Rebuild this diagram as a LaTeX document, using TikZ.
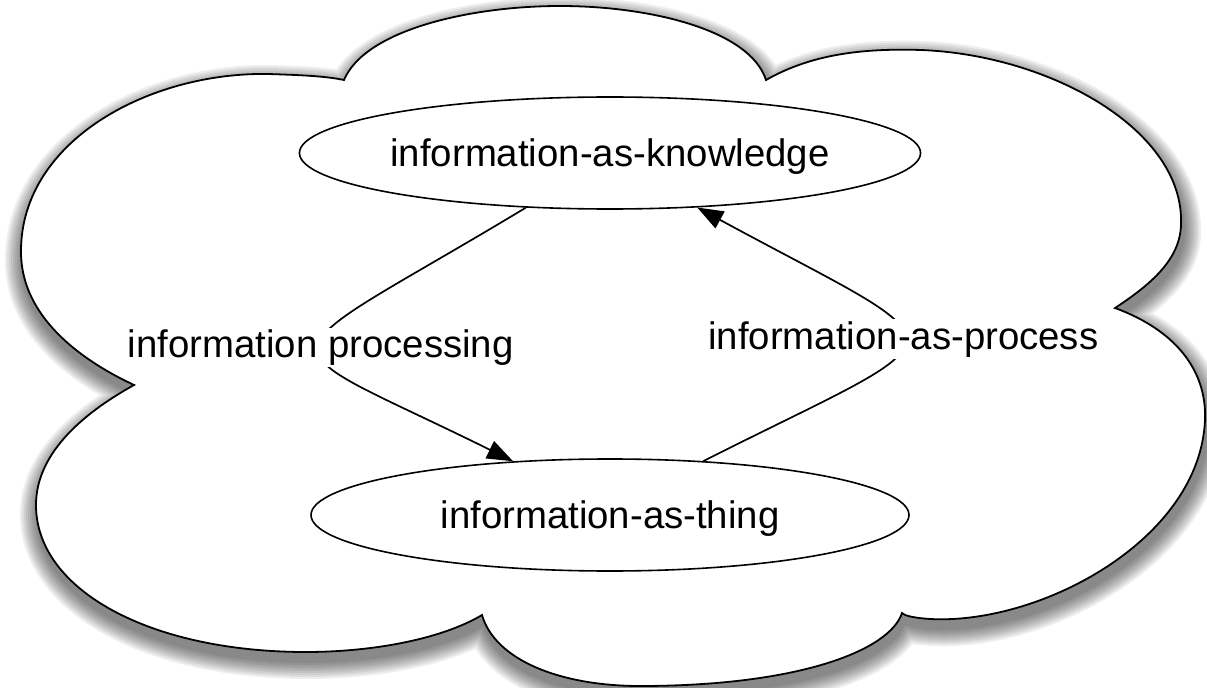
\documentclass[tikz,border=0pt]{standalone}
\usepackage{fontspec}
\setmainfont{Liberation Sans}
\usetikzlibrary{arrows.meta,shapes.geometric}
\tikzset{
  cloudpath/.style={insert path={(344,80) .. controls (365,30) and (470,6) .. (560,6) .. controls (650,6) and (750,30) .. (766,80) .. controls (810,55) and (860,48) .. (921,50) .. controls (1050,55) and (1185,130) .. (1181,225) .. controls (1180,260) and (1150,285) .. (1115,308) .. controls (1175,330) and (1207,370) .. (1205,420) .. controls (1200,540) and (1040,625) .. (930,619) .. controls (915,618) and (905,616) .. (902,613) .. controls (890,650) and (800,686) .. (640,686) .. controls (560,686) and (495,660) .. (482,615) .. controls (440,640) and (370,652) .. (306,652) .. controls (150,652) and (36,590) .. (36,505) .. controls (36,455) and (80,415) .. (134,385) .. controls (70,355) and (20,310) .. (21,250) .. controls (22,140) and (150,72) .. (268,74) .. controls (300,75) and (325,76) .. (344,80) -- cycle}},
  ell/.style={ellipse, draw, fill=white, minimum width=598bp, minimum height=112bp, inner sep=0pt, line width=1.6bp, text depth=0pt, font=\fontsize{38.5}{46}\selectfont},
  lbl/.style={fill=white, inner sep=2bp, font=\fontsize{38.5}{46}\selectfont},
  conn/.style={line width=1.7bp, -{Triangle[length=26bp,width=19bp]}}
}
\begin{document}
\begin{tikzpicture}[x=1bp,y=-1bp]
\useasboundingbox (0,0) rectangle (1207,688);
\foreach \w in {36,32,28,24,20,16,12,8,4} {
  \begin{scope}[transparency group, opacity=0.065]
    \path[fill=black, draw=black, line width=\w bp, line join=round, shift={(2,9)}, cloudpath];
  \end{scope}
}
\path[draw, fill=white, line width=1.8bp, line join=miter, cloudpath];
\node[ell] (k) at (610,153) {information-as-knowledge};
\node[ell] (t) at (610,515) {information-as-thing};
\draw[conn] (k.213) .. controls (255,371) and (254,333) .. (t.151) node[pos=0.5, lbl] {information processing};
\draw[conn] (t.30) .. controls (971,326) and (971,356) .. (k.-32) node[pos=0.5, lbl] {information-as-process};
\end{tikzpicture}
\end{document}
